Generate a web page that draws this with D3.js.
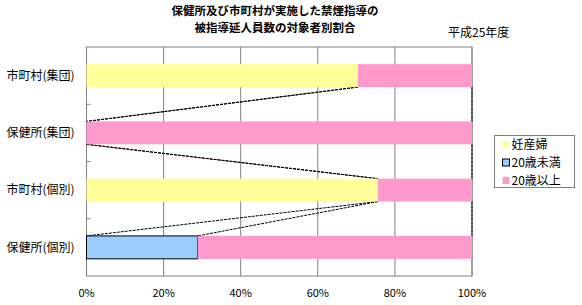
<!DOCTYPE html>
<html>
<head>
<meta charset="utf-8">
<script src="https://cdn.jsdelivr.net/npm/d3@7"></script>
<style>
  body { margin: 0; background: #fff; }
  text { font-family: "Noto Sans CJK JP", "Noto Sans", sans-serif; fill: #000; }
</style>
</head>
<body>
<div id="chart"></div>
<script>
// categories, top to bottom
const categories = ["市町村(集団)", "保健所(集団)", "市町村(個別)", "保健所(個別)"];
const seriesNames = ["妊産婦", "20歳未満", "20歳以上"];
const ninsanpu = [70.4, 0, 75.6, 0];
const under20 = [0, 0, 0, 28.8];
const over20 = [29.6, 100, 24.4, 71.2];
const xTicks = [0, 20, 40, 60, 80, 100];
const titleLines = ["保健所及び市町村が実施した禁煙指導の", "被指導延人員数の対象者別割合"];
const subTitle = "平成25年度";

const colors = ["#ffff99", "#99ccff", "#ff99cc"];

let margin = {top: 47, right: 110, bottom: 29, left: 86.5};
let width = 582 - margin.left - margin.right;
let height = 305 - margin.top - margin.bottom;

const svg = d3.select("#chart").append("svg")
    .attr("width", 582)
    .attr("height", 305);

const g = svg.append("g")
    .attr("transform", `translate(${margin.left},${margin.top})`);

const x = d3.scaleLinear().domain([0, 100]).range([0, width]);
const y = d3.scaleBand().domain(categories).range([0, height]).paddingInner(0.6).paddingOuter(0.3);
const yBand = d3.scaleBand().domain(categories).range([0, height]);

// stacked data
const rows = categories.map((c, i) => ({name: c, values: [ninsanpu[i], under20[i], over20[i]]}));
const stack = d3.stack().keys([0, 1, 2]).value((d, k) => d.values[k]);
const layers = stack(rows);

// gridlines
g.append("g")
  .selectAll("line")
  .data(xTicks)
  .join("line")
    .attr("x1", d => x(d)).attr("x2", d => x(d))
    .attr("y1", 0).attr("y2", height)
    .attr("stroke", "#808080").attr("stroke-width", 1);

// plot border
g.append("rect")
    .attr("x", 0).attr("y", 0)
    .attr("width", width).attr("height", height)
    .attr("fill", "none").attr("stroke", "#808080");

// y-axis ticks between categories
g.append("g")
  .selectAll("line")
  .data(categories.slice(1))
  .join("line")
    .attr("x1", 0).attr("x2", 4)
    .attr("y1", d => yBand(d)).attr("y2", d => yBand(d))
    .attr("stroke", "#808080");

// series lines (dashed connectors)
const connectors = [];
layers.forEach((layer, k) => {
  for (let i = 0; i < categories.length - 1; i++) {
    connectors.push({
      x1: x(layer[i][1]), y1: y(categories[i]) + y.bandwidth(),
      x2: x(layer[i + 1][1]), y2: y(categories[i + 1])
    });
  }
});
g.append("g")
  .selectAll("line")
  .data(connectors)
  .join("line")
    .attr("x1", d => d.x1).attr("y1", d => d.y1)
    .attr("x2", d => d.x2).attr("y2", d => d.y2)
    .attr("stroke", "#000").attr("stroke-width", 1)
    .attr("stroke-dasharray", "3,1");

// bars
g.append("g")
  .selectAll("g")
  .data(layers)
  .join("g")
    .attr("fill", d => colors[d.key])
  .selectAll("rect")
  .data(d => d.map(s => Object.assign(s, {key: d.key})))
  .join("rect")
    .attr("x", d => x(d[0]))
    .attr("y", d => y(d.data.name))
    .attr("width", d => x(d[1]) - x(d[0]))
    .attr("height", y.bandwidth())
    .attr("stroke", d => d.key === 1 && d[1] > d[0] ? "#000" : "none")
    .attr("stroke-width", 1);

// y labels
g.append("g")
  .selectAll("text")
  .data(categories)
  .join("text")
    .attr("x", -12)
    .attr("y", d => y(d) + y.bandwidth() / 2)
    .attr("dy", "0.35em")
    .attr("text-anchor", "end")
    .attr("font-size", 12)
    .text(d => d);

// x labels
g.append("g")
  .selectAll("text")
  .data(xTicks)
  .join("text")
    .attr("x", d => x(d))
    .attr("y", height + 17)
    .attr("dy", "0.35em")
    .attr("text-anchor", "middle")
    .attr("font-size", 11)
    .text(d => d + "%");

// title
svg.append("g")
  .selectAll("text")
  .data(titleLines)
  .join("text")
    .attr("x", 275)
    .attr("y", (d, i) => 10.5 + i * 17)
    .attr("dy", "0.35em")
    .attr("text-anchor", "middle")
    .attr("font-size", 11.5)
    .attr("font-weight", "bold")
    .text(d => d);

svg.append("text")
    .attr("x", 448)
    .attr("y", 33)
    .attr("dy", "0.35em")
    .attr("font-size", 12)
    .text(subTitle);

// legend
const legend = svg.append("g").attr("transform", "translate(494.5,135.5)");
legend.append("rect")
    .attr("width", 80).attr("height", 52)
    .attr("fill", "#fff").attr("stroke", "#808080");
const item = legend.selectAll("g")
  .data(seriesNames)
  .join("g")
    .attr("transform", (d, i) => `translate(8,${9 + i * 18})`);
item.append("rect")
    .attr("x", 0).attr("y", -3.5)
    .attr("width", 7).attr("height", 7)
    .attr("fill", (d, i) => colors[i])
    .attr("stroke", (d, i) => i === 1 ? "#000" : "none");
item.append("text")
    .attr("x", 9)
    .attr("dy", "0.35em")
    .attr("font-size", 12)
    .text(d => d);
</script>
</body>
</html>
